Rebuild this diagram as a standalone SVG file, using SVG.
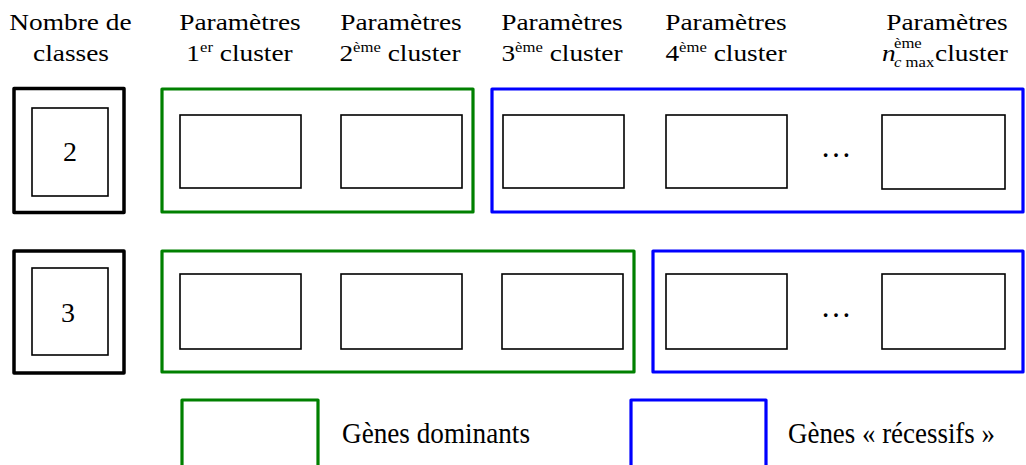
<svg xmlns="http://www.w3.org/2000/svg" width="1026" height="465" viewBox="0 0 1026 465" font-family="'Liberation Serif', 'Times New Roman', 'DejaVu Serif', serif">
<style>
text{font-family:'Liberation Serif','Times New Roman','DejaVu Serif',serif;fill:#000}
.h{font-size:23px;text-anchor:middle}
.sup{font-size:14px}
.num{font-size:28px;text-anchor:middle}
.leg{font-size:29px}
.dots{font-size:31px;text-anchor:middle}
.outer{fill:none;stroke:#000;stroke-width:3.5;stroke-linejoin:round}
.inner{fill:#fff;stroke:#000;stroke-width:1.6}
.dom{fill:none;stroke:#008000;stroke-width:3.2;stroke-linejoin:round}
.rec{fill:none;stroke:#0000ff;stroke-width:3.2;stroke-linejoin:round}
</style>
<rect width="1026" height="465" fill="#fff"/>
<g id="headers">
<text class="h" transform="translate(70.5,30) scale(1.19,1)">Nombre de</text>
<text class="h" transform="translate(71,61) scale(1.19,1)">classes</text>
<text class="h" transform="translate(240,30) scale(1.19,1)">Paramètres</text>
<text class="h" transform="translate(239.5,61) scale(1.19,1)">1<tspan class="sup" dy="-9">er</tspan><tspan dy="9"> cluster</tspan></text>
<text class="h" transform="translate(401,30) scale(1.19,1)">Paramètres</text>
<text class="h" transform="translate(400,61) scale(1.19,1)">2<tspan class="sup" dy="-9">ème</tspan><tspan dy="9"> cluster</tspan></text>
<text class="h" transform="translate(562,30) scale(1.19,1)">Paramètres</text>
<text class="h" transform="translate(562,61) scale(1.19,1)">3<tspan class="sup" dy="-9">ème</tspan><tspan dy="9"> cluster</tspan></text>
<text class="h" transform="translate(726,30) scale(1.19,1)">Paramètres</text>
<text class="h" transform="translate(726,61) scale(1.19,1)">4<tspan class="sup" dy="-9">ème</tspan><tspan dy="9"> cluster</tspan></text>
<text class="h" transform="translate(947,30) scale(1.19,1)">Paramètres</text>
<g>
<text transform="translate(882,61) scale(1.19,1)" style="font-size:23px;font-style:italic">n</text>
<text transform="translate(894,48) scale(1.19,1)" class="sup">ème</text>
<text transform="translate(894,67) scale(1.19,1)" class="sup"><tspan font-style="italic">c</tspan> max</text>
<text transform="translate(935,61) scale(1.19,1)" style="font-size:23px">cluster</text>
</g>
</g>
<g id="row1">
<g id="n2"><rect class="outer" x="14" y="88.5" width="110" height="124"/><rect class="inner" x="32" y="108" width="76" height="88"/><text class="num" x="70" y="161">2</text></g>
<g id="dom1"><rect class="dom" x="162" y="89" width="311" height="123"/>
<rect class="inner" x="180" y="115" width="121" height="73"/>
<rect class="inner" x="341" y="115" width="121" height="73"/></g>
<g id="rec1"><rect class="rec" x="492" y="89" width="531" height="123"/>
<rect class="inner" x="503" y="115" width="121" height="73"/>
<rect class="inner" x="666" y="115" width="121" height="73"/>
<text class="dots" x="836" y="157">…</text>
<rect class="inner" x="882" y="115" width="123" height="74"/></g>
</g>
<g id="row2">
<g id="n3"><rect class="outer" x="14" y="251" width="110" height="122"/><rect class="inner" x="32" y="268" width="76" height="87"/><text class="num" x="68" y="322">3</text></g>
<g id="dom2"><rect class="dom" x="162" y="251" width="472" height="121"/>
<rect class="inner" x="180" y="274" width="121" height="75"/>
<rect class="inner" x="341" y="274" width="121" height="75"/>
<rect class="inner" x="502" y="274" width="121" height="75"/></g>
<g id="rec2"><rect class="rec" x="653" y="251" width="370" height="121"/>
<rect class="inner" x="666" y="274" width="121" height="75"/>
<text class="dots" x="836" y="317">…</text>
<rect class="inner" x="882" y="274" width="123" height="75"/></g>
</g>
<g id="legend">
<g id="leg-dom"><rect class="dom" x="182" y="400" width="136" height="70"/><text class="leg" x="342" y="443" textLength="188" lengthAdjust="spacingAndGlyphs">Gènes dominants</text></g>
<g id="leg-rec"><rect class="rec" x="631" y="400" width="135" height="70"/><text class="leg" x="788" y="443" textLength="207" lengthAdjust="spacingAndGlyphs">Gènes « récessifs »</text></g>
</g>
<g id="connectors"/>
</svg>
